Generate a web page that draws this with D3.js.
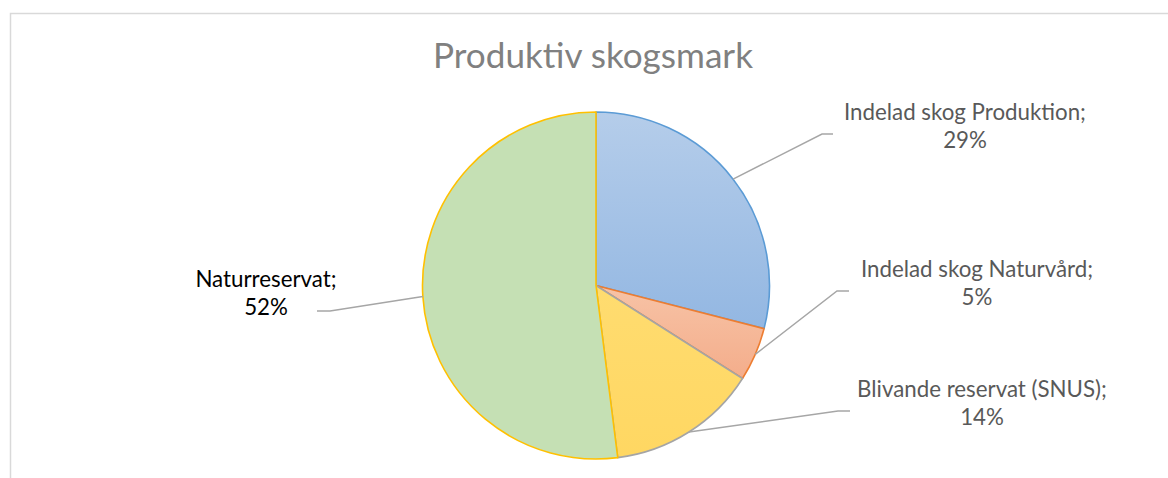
<!DOCTYPE html>
<html><head><meta charset="utf-8">
<script src="https://cdn.jsdelivr.net/npm/d3@7"></script>
<style>body{margin:0;background:#fff}svg{display:block}</style>
</head><body><svg id="c" width="1168" height="478"></svg>
<script>
// ---- data ----
const categories = ["Indelad skog Produktion", "Indelad skog Naturvård", "Blivande reservat (SNUS)", "Naturreservat"];
const values = [29, 5, 14, 52];
const chartTitle = "Produktiv skogsmark";

// ---- styles / layout ----
const fills = ["url(#gBlue)", "url(#gOrange)", "url(#gYellow)", "#c5e0b4"];
const strokes = ["#5b9bd5", "#ed7d31", "#a5a5a5", "#ffc000"];
const labelColors = ["#595959", "#595959", "#595959", "#000000"];
const labelPos = [[965, 120], [977, 277], [982, 397], [266, 287]];
const elbows = [[822, 134, 833], [837, 291, 849], [838, 411, 850], [330, 311, 317]];

const svg = d3.select("#c");
const W = 1168, H = 478;
const cx = 596, cy = 285.5, R = 173.5;
const FONT = "Lato, 'Open Sans', sans-serif";

const defs = svg.append("defs");
function grad(id, c1, c2) {
  const g = defs.append("linearGradient").attr("id", id).attr("x1", 0).attr("y1", 0).attr("x2", 0).attr("y2", 1);
  g.append("stop").attr("offset", "0%").attr("stop-color", c1);
  g.append("stop").attr("offset", "100%").attr("stop-color", c2);
}
grad("gBlue", "#b5cdea", "#93b7e2");
grad("gOrange", "#f7c3a6", "#f4ad8b");
grad("gYellow", "#ffdc70", "#ffd762");

// frame
svg.append("rect").attr("x", 10.5).attr("y", 13.5).attr("width", 1300).attr("height", 600)
  .attr("fill", "#fff").attr("stroke", "#d9d9d9").attr("stroke-width", 1.5);

// title
const t = svg.append("text").attr("x", 593).attr("y", 68).attr("text-anchor", "middle")
  .attr("fill", "#808080").style("font-family", FONT).style("font-size", "32px").text(chartTitle);
function fit(sel, target) {
  const w = sel.node().getComputedTextLength();
  const fs = parseFloat(sel.style("font-size"));
  sel.style("font-size", (fs * target / w) + "px");
  return fs * target / w;
}
fit(t, 320);

// pie
const pie = d3.pie().sort(null).value(d => d).startAngle(0).endAngle(2 * Math.PI);
const arcs = pie(values);
const arc = d3.arc().innerRadius(0).outerRadius(R);
const edge = d3.arc().innerRadius(R).outerRadius(R);
const g = svg.append("g").attr("transform", `translate(${cx},${cy})`);
g.selectAll("path").data(arcs).join("path")
  .attr("d", arc)
  .attr("fill", (d, i) => fills[i])
  .attr("stroke", (d, i) => strokes[i])
  .attr("stroke-width", 1.6)
  .attr("stroke-linejoin", "round");

// leader lines
const total = d3.sum(values);
svg.append("g").selectAll("polyline").data(arcs).join("polyline")
  .attr("points", (d, i) => {
    const [ex, ey] = edge.centroid(d);
    const e = elbows[i];
    return `${cx + ex},${cy + ey} ${e[0]},${e[1]} ${e[2]},${e[1]}`;
  })
  .attr("fill", "none").attr("stroke", "#a6a6a6").attr("stroke-width", 1.5);

// labels
const probe = svg.append("text").style("font-family", FONT).style("font-size", "20px").text(categories[0] + ";");
const lfs = fit(probe, 242);
probe.remove();
const lg = svg.append("g");
categories.forEach((c, i) => {
  const tx = lg.append("text").attr("text-anchor", "middle")
    .attr("fill", labelColors[i]).style("font-family", FONT).style("font-size", lfs + "px");
  tx.append("tspan").attr("x", labelPos[i][0]).attr("y", labelPos[i][1]).text(c + ";");
  tx.append("tspan").attr("x", labelPos[i][0]).attr("y", labelPos[i][1] + 28)
    .text(Math.round(values[i] / total * 100) + "%");
});
</script></body></html>
